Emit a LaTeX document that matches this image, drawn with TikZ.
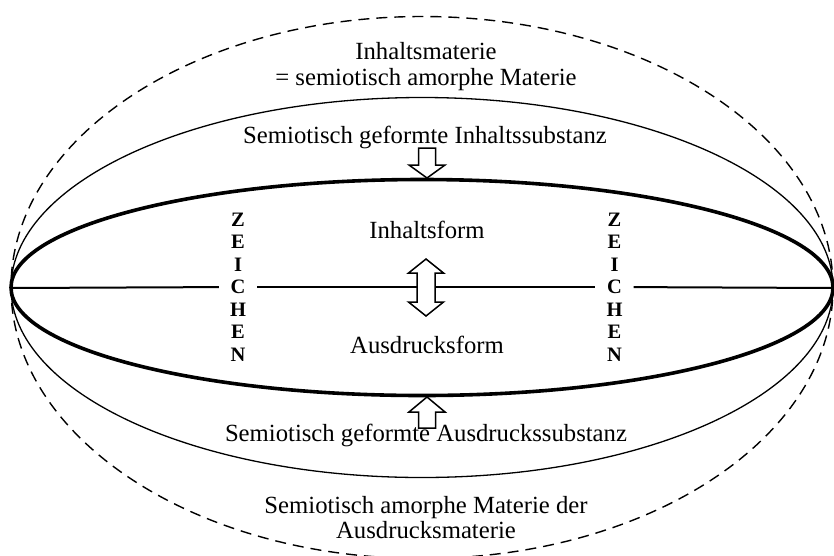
\documentclass[tikz,border=0pt]{standalone}
\usepackage{fontspec}
\setmainfont{Liberation Serif}
\begin{document}
\begin{tikzpicture}[x=1pt,y=-1pt,
  lbl/.style={font=\fontsize{24.7}{26}\selectfont, inner sep=0pt, anchor=base},
  zeichen/.style={font=\bfseries\fontsize{20.5}{22.5}\selectfont, align=center,
    inner xsep=11pt, inner ysep=0pt},
  outerline/.style={line width=1.4pt, dash pattern=on 11pt off 7pt},
  midline/.style={line width=1.3pt},
  thickline/.style={line width=3.6pt},
  axisline/.style={line width=2pt},
  hollow/.style={draw=black, fill=white, line width=1.5pt, line join=miter}]
\useasboundingbox (0,0) rectangle (834,555);
\coordinate (C) at (422,287.5);
% ellipses
\draw[outerline] (C) ellipse [x radius=411pt, y radius=271pt];
\draw[midline] (C) ellipse [x radius=411pt, y radius=190pt];
\draw[thickline] (C) ellipse [x radius=411pt, y radius=108pt];
% ZEICHEN columns
\node[zeichen] (zl) at (238,287) {Z\\E\\I\\C\\H\\E\\N};
\node[zeichen] (zr) at (614.5,287) {Z\\E\\I\\C\\H\\E\\N};
% horizontal axis
\coordinate (L) at (11,288);
\coordinate (R) at (833,288);
\draw[axisline] (L) -- (zl);
\draw[axisline] (zl) -- (zr);
\draw[axisline] (zr) -- (R);
% texts
\node[lbl] (t1) at (426,59) {Inhaltsmaterie};
\node[lbl] (t2) at (426,85) {= semiotisch amorphe Materie};
\node[lbl] (t3) at (425,143) {Semiotisch geformte Inhaltssubstanz};
\node[lbl] (t4) at (427,238) {Inhaltsform};
\node[lbl] (t5) at (427,353) {Ausdrucksform};
\node[lbl] (t6) at (426,441) {Semiotisch geformte Ausdruckssubstanz};
\node[lbl] (t7) at (426,513) {Semiotisch amorphe Materie der};
\node[lbl] (t8) at (426,538) {Ausdrucksmaterie};
% hollow arrows
\draw[hollow] (418.5,148) -- (435.5,148) -- (435.5,165) -- (445,165) -- (427,178)
  -- (409,165) -- (418.5,165) -- cycle;
\draw[hollow] (426,259) -- (443.5,273) -- (435,273) -- (435,302) -- (443.5,302)
  -- (426,316) -- (408.5,302) -- (417,302) -- (417,273) -- (408.5,273) -- cycle;
\draw[hollow] (427,397) -- (445,412) -- (435.5,412) -- (435.5,428) -- (418.5,428)
  -- (418.5,412) -- (409,412) -- cycle;
\end{tikzpicture}
\end{document}
